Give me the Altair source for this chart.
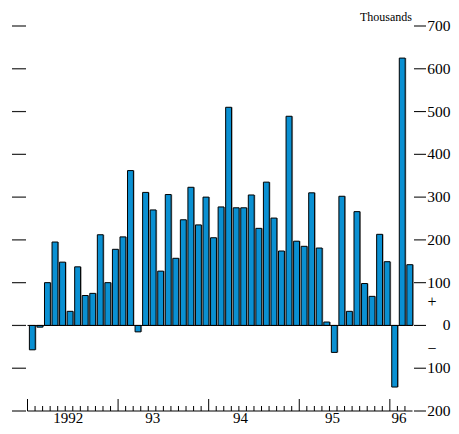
import altair as alt
import pandas as pd

# Monthly change, thousands (Jan 1992 - Mar 1996)
values_1992 = [-57, -4, 100, 195, 148, 33, 137, 70, 75, 212, 100, 178]
values_1993 = [207, 362, -15, 311, 270, 127, 306, 157, 247, 323, 235, 300]
values_1994 = [205, 277, 510, 275, 275, 305, 227, 335, 251, 174, 489, 197]
values_1995 = [185, 310, 181, 8, -63, 302, 33, 266, 98, 68, 213, 149]
values_1996 = [-144, 625, 142]

year_labels = ["1992", "93", "94", "95", "96"]
year_label_month = [5.4, 16.6, 28.2, 40.4, 49.2]
y_ticks = list(range(-200, 701, 100))
y_tick_labels = [str(abs(t)) for t in y_ticks]
signs = ["+", "\u2212"]
sign_values = [55, -55]
unit_label = ["Thousands"]

changes = values_1992 + values_1993 + values_1994 + values_1995 + values_1996
n = len(changes)
df = pd.DataFrame({"m": list(range(n)), "v": changes})
df_bounds = pd.DataFrame({"b": list(range(n)), "major": [i % 12 == 0 for i in range(n)]})
df_years = pd.DataFrame({"label": year_labels, "p": year_label_month})
df_yt = pd.DataFrame({"t": y_ticks, "lab": y_tick_labels})
df_signs = pd.DataFrame({"s": signs, "y": sign_values})
df_lines = pd.DataFrame({"a": [0, 0], "b": [n, n], "z": [0, min(y_ticks)]})
df_unit = pd.DataFrame({"u": unit_label})

W, H = 385, 385
PAD_L, PAD_T, PAD_R, PAD_B = 19.5, 18, 38.5, 15
BLUE = "#0a90d2"
FONT = "Liberation Serif"

x_scale = alt.Scale(domain=[0, n], nice=False, zero=False)
y_scale = alt.Scale(domain=[min(y_ticks), max(y_ticks)], nice=False, zero=False)

base = alt.Chart(df).transform_calculate(
    x0="datum.m + 0.25", x1="datum.m + 1.03", zero="0",
    sx0="datum.m + 0.4", sx1="datum.m + 1.18",
)

shadow = base.mark_bar(fill="#a0a0a0", strokeWidth=0).encode(
    x=alt.X("sx0:Q", scale=x_scale, axis=None),
    x2="sx1:Q",
    y=alt.Y("v:Q", scale=y_scale, axis=None),
    y2="zero:Q",
)

bars = base.mark_bar(fill=BLUE, stroke="black", strokeWidth=1).encode(
    x=alt.X("x0:Q", scale=x_scale, axis=None),
    x2="x1:Q",
    y=alt.Y("v:Q", scale=y_scale, axis=None),
    y2="zero:Q",
)

lines = alt.Chart(df_lines).mark_rule(color="black", strokeWidth=1).encode(
    x=alt.X("a:Q", scale=x_scale, axis=None), x2="b:Q",
    y=alt.Y("z:Q", scale=y_scale, axis=None),
)

left_ticks = alt.Chart(df_yt).mark_rule(color="#222222", strokeWidth=1.2).encode(
    x=alt.value(-15.5), x2=alt.value(-1.5),
    y=alt.Y("t:Q", scale=y_scale, axis=None),
)

right_ticks = alt.Chart(df_yt).mark_rule(color="#111111", strokeWidth=1.1).encode(
    x=alt.value(W + 1.5), x2=alt.value(W + 13.5),
    y=alt.Y("t:Q", scale=y_scale, axis=None),
)

right_labels = alt.Chart(df_yt).mark_text(
    font=FONT, fontSize=15.5, align="right", baseline="middle", color="black").encode(
    x=alt.value(W + PAD_R - 0.5), y=alt.Y("t:Q", scale=y_scale, axis=None), text="lab:N",
)

minor_ticks = alt.Chart(df_bounds).transform_filter("!datum.major").mark_rule(
    color="black", strokeWidth=1).encode(
    x=alt.X("b:Q", scale=x_scale, axis=None), y=alt.value(H), y2=alt.value(H - 5),
)
major_ticks = alt.Chart(df_bounds).transform_filter("datum.major").mark_rule(
    color="black", strokeWidth=1).encode(
    x=alt.X("b:Q", scale=x_scale, axis=None), y=alt.value(H), y2=alt.value(H - 12),
)

year_text = alt.Chart(df_years).mark_text(
    font=FONT, fontSize=15, align="center", baseline="alphabetic", color="black").encode(
    x=alt.X("p:Q", scale=x_scale, axis=None), y=alt.value(H + 12), text="label:N",
)

sign_text = alt.Chart(df_signs).mark_text(
    font=FONT, fontSize=16, align="center", baseline="middle", color="black").encode(
    x=alt.value(W + 19.5), y=alt.Y("y:Q", scale=y_scale, axis=None), text="s:N",
)

unit_text = alt.Chart(df_unit).mark_text(
    font=FONT, fontSize=12, align="right", baseline="middle", color="black").encode(
    x=alt.value(W - 0.5), y=alt.value(-9), text="u:N",
)

chart = alt.layer(
    shadow, bars, lines, left_ticks, right_ticks, right_labels,
    minor_ticks, major_ticks, year_text, sign_text, unit_text,
).properties(
    width=W, height=H,
    autosize=alt.AutoSizeParams(type="none"),
    padding={"left": PAD_L, "top": PAD_T, "right": PAD_R, "bottom": PAD_B},
).configure_view(stroke=None)

chart.save("out.html", embed_options={"renderer": "svg", "actions": False})
